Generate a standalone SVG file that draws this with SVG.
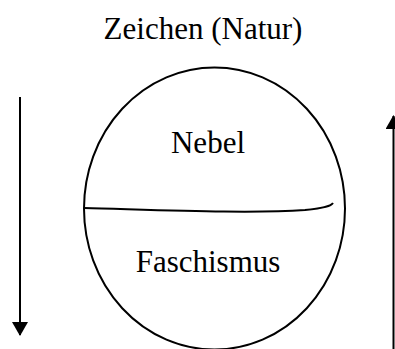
<svg xmlns="http://www.w3.org/2000/svg" width="395" height="349" viewBox="0 0 395 349">
<style>
text{font-family:"Liberation Serif","Times New Roman",serif;font-size:31px;fill:#000;text-anchor:middle}
.ln{fill:none;stroke:#000;stroke-width:2}
</style>
<defs>
<marker id="ah" viewBox="0 0 14 16" refX="13" refY="8" markerWidth="14" markerHeight="16" markerUnits="userSpaceOnUse" orient="auto">
<path d="M0,0 L14,8 L0,16 Z" fill="#000"/>
</marker>
</defs>
<rect width="395" height="349" fill="#fff"/>
<g id="title"><text x="203" y="39">Zeichen (Natur)</text></g>
<g id="sphere">
<ellipse class="ln" cx="214.5" cy="208.5" rx="130.5" ry="141"/>
<path class="ln" d="M84,208 C160,210 250,214 305,210 C325,208 331,206 333,203"/>
</g>
<g id="nebel"><text x="208" y="153">Nebel</text></g>
<g id="faschismus"><text x="208" y="272">Faschismus</text></g>
<g id="connectors">
<line class="ln" x1="20" y1="97" x2="20" y2="335" stroke-width="3" marker-end="url(#ah)"/>
<line class="ln" x1="393.5" y1="349" x2="393.5" y2="116" stroke-width="2" marker-end="url(#ah)"/>
</g>
</svg>
